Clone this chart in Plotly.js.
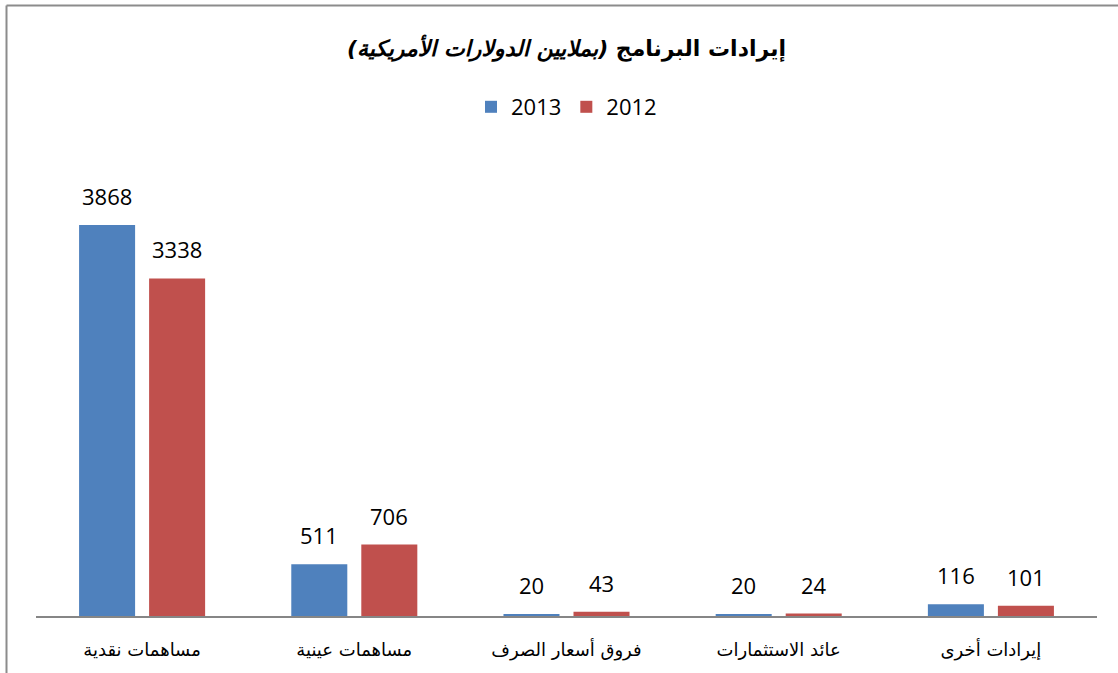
<!DOCTYPE html>
<html>
<head>
<meta charset="utf-8">
<script src="https://cdn.plot.ly/plotly-3.0.1.min.js"></script>
<style>
html,body{margin:0;padding:0;background:#fff;}
#chart{width:1118px;height:673px;}
</style>
</head>
<body>
<div id="chart"></div>
<script>
const categories = ["مساهمات نقدية", "مساهمات عينية", "فروق أسعار الصرف", "عائد الاستثمارات", "إيرادات أخرى"];
const seriesNames = ["2013", "2012"];
const values2013 = [3868, 511, 20, 20, 116];
const values2012 = [3338, 706, 43, 24, 101];
const colors = ["#4F81BD", "#C0504D"];

const series = [values2013, values2012];
const traces = series.map((vals, i) => ({
  type: "bar",
  name: seriesNames[i],
  x: categories,
  y: vals,
  marker: {color: colors[i]},
  hoverinfo: "skip"
}));

const labelFont = {family: "'Open Sans', sans-serif", size: 22, color: "#000"};
const annotations = [];
series.forEach((vals, i) => {
  vals.forEach((v, j) => {
    annotations.push({
      x: categories[j], y: v, xref: "x", yref: "y",
      text: String(v), showarrow: false,
      xanchor: "center", yanchor: "bottom",
      xshift: i === 0 ? -35 : 35, yshift: 12,
      font: labelFont
    });
  });
});

const border = "#8C8C8C";
const layout = {
  width: 1118, height: 673,
  margin: {l: 36, r: 21, t: 161, b: 57},
  paper_bgcolor: "#fff", plot_bgcolor: "#fff",
  barmode: "group", bargap: 0.34, bargroupgap: 0.2,
  title: {
    text: "<b>إيرادات البرنامج <i>(بملايين الدولارات الأمريكية)\u200F</i></b>",
    font: {family: "'DejaVu Sans', sans-serif", size: 22, color: "#000"},
    x: 0.5, xref: "paper", xanchor: "center",
    y: 1 - 48/673, yanchor: "middle"
  },
  showlegend: true,
  legend: {
    orientation: "h", x: 0.5, xanchor: "center", y: (616-107)/455, yanchor: "middle",
    font: {family: "'Open Sans', sans-serif", size: 22, color: "#000"},
    traceorder: "normal"
  },
  xaxis: {
    type: "category",
    showline: true, linecolor: "#868686", linewidth: 1.5,
    showgrid: false, zeroline: false, ticks: "",
    ticklabelstandoff: 17,
    tickfont: {family: "'DejaVu Sans', sans-serif", size: 18, color: "#000"},
    fixedrange: true
  },
  yaxis: {
    range: [0, 4500], visible: false, showgrid: false, zeroline: false, fixedrange: true
  },
  annotations: annotations,
  shapes: [
    {type: "line", xref: "paper", yref: "paper", x0: (6.5-36)/1061, x1: (6.5-36)/1061, y0: -0.2, y1: (616-5.5)/455, line: {color: border, width: 2}},
    {type: "line", xref: "paper", yref: "paper", x0: (6.5-36)/1061, x1: 1.1, y0: (616-5.5)/455, y1: (616-5.5)/455, line: {color: border, width: 2}}
  ]
};

Plotly.newPlot("chart", traces, layout, {displayModeBar: false, staticPlot: true});
</script>
</body>
</html>
